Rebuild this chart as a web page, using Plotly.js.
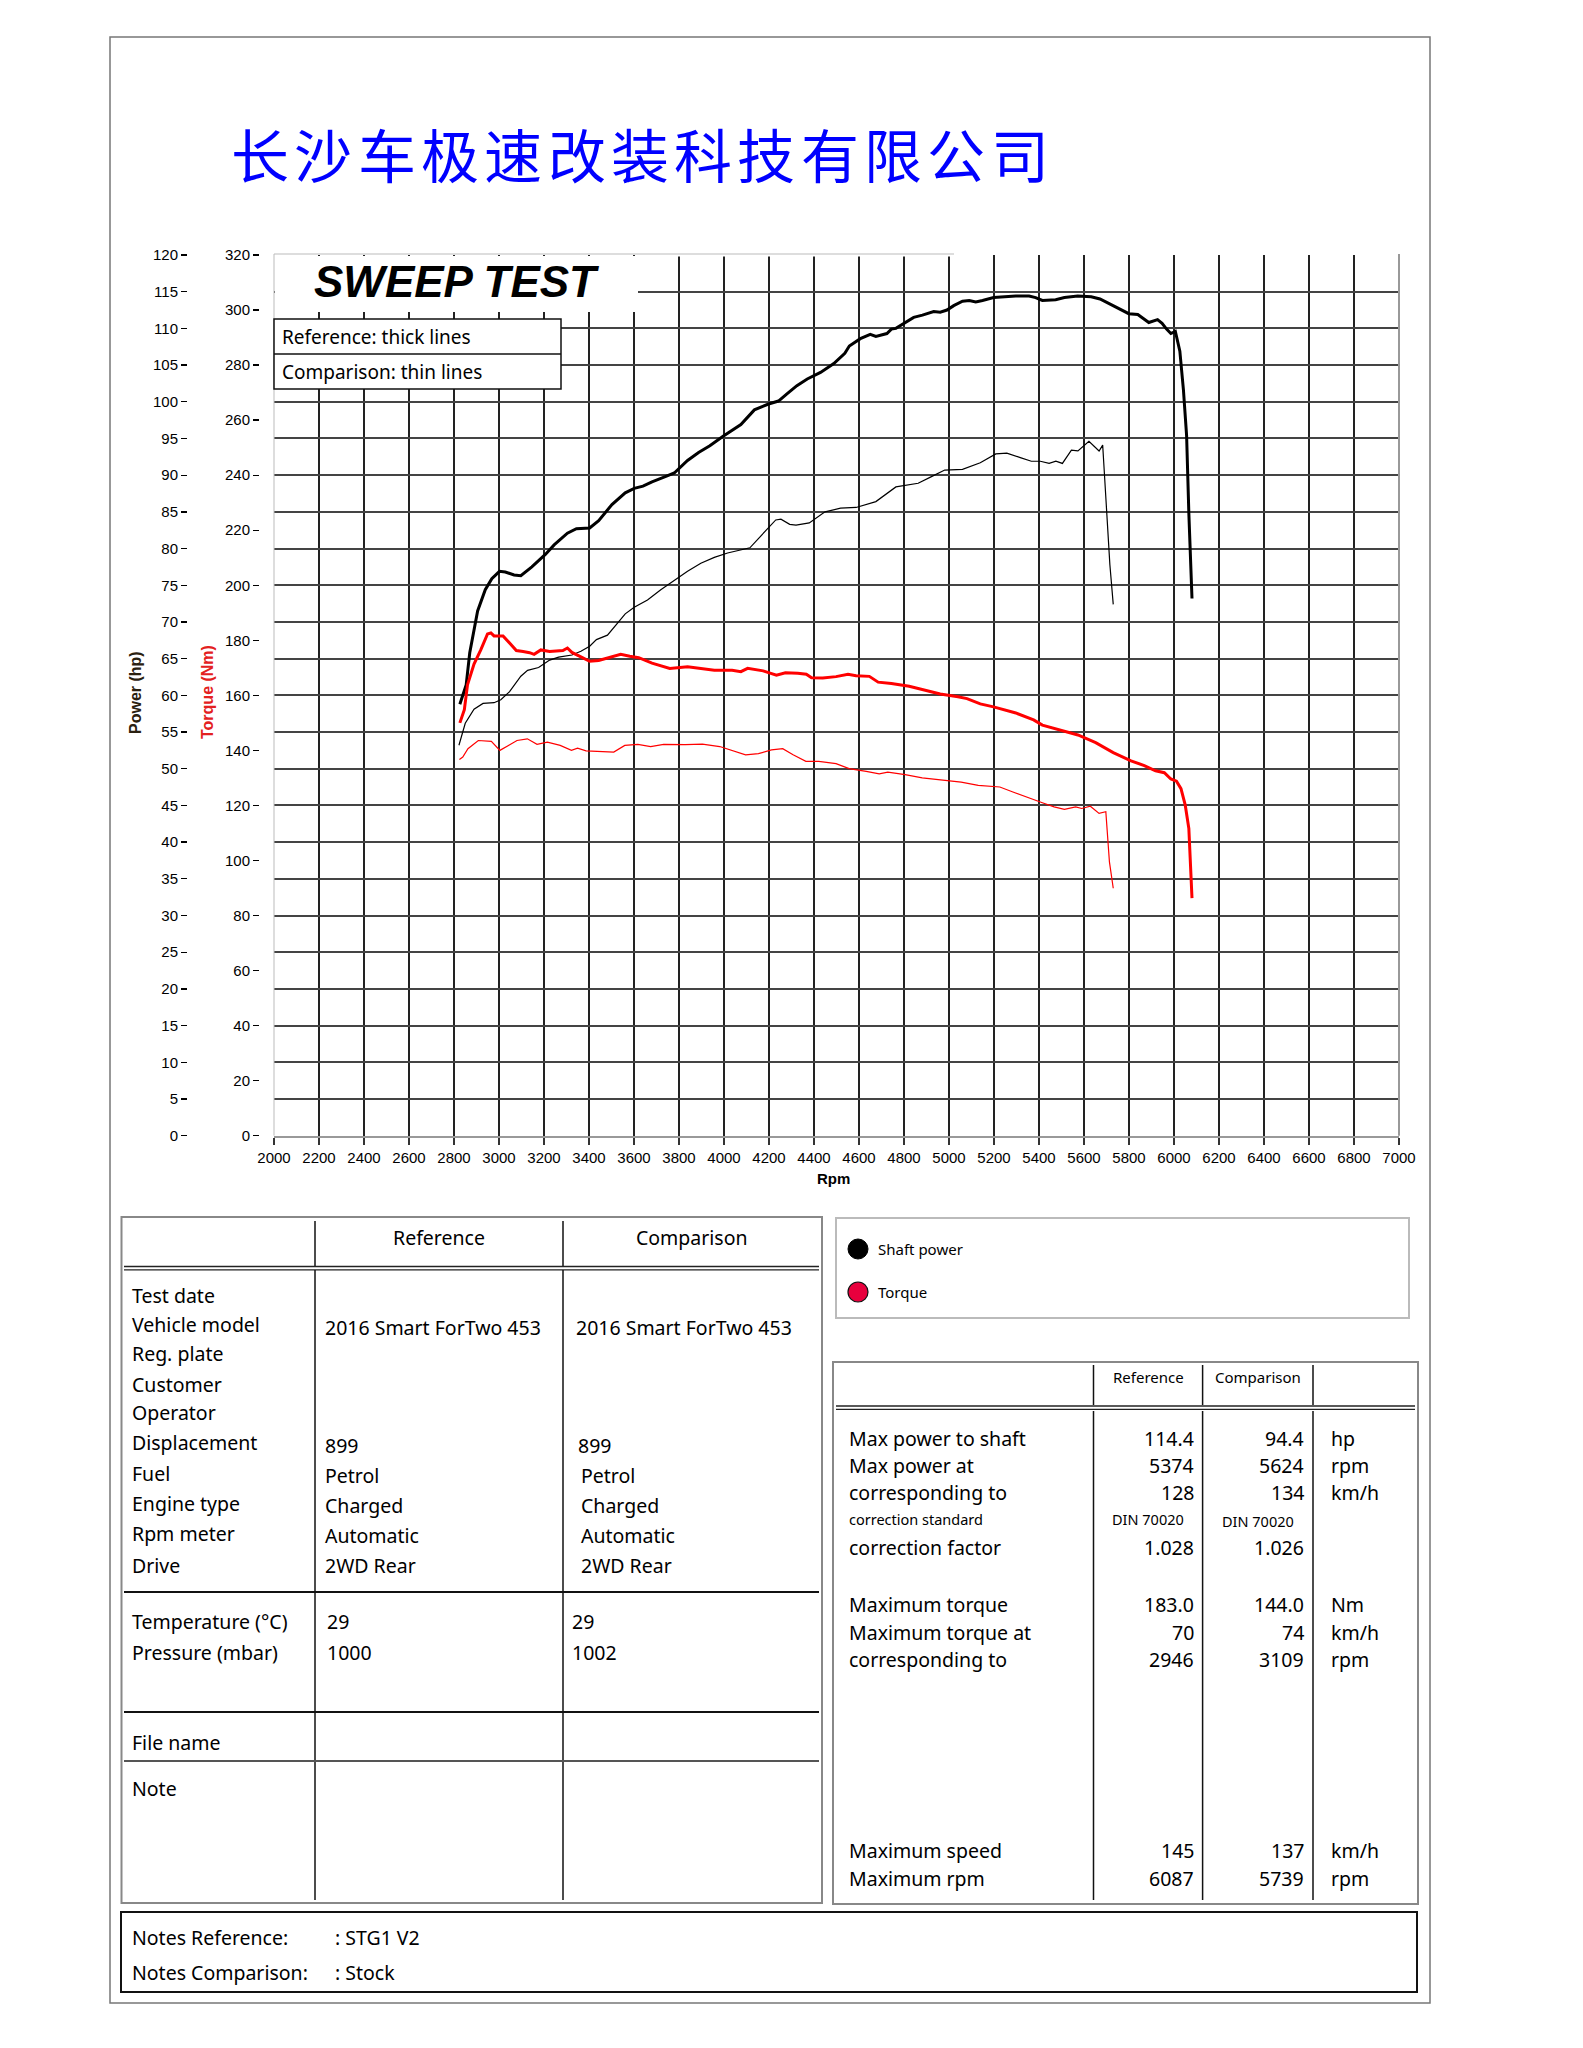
<!DOCTYPE html>
<html><head><meta charset="utf-8">
<script src="https://cdn.plot.ly/plotly-3.0.1.min.js"></script>
<style>html,body{margin:0;padding:0;background:#fff}#chart{width:1583px;height:2048px}</style>
</head><body><div id="chart"></div>
<script>
// ---------- DATA ----------
const refPowerRpm = [2826,2854,2870,2905,2939,2968,3002,3028,3067,3097,3146,3206,3245,3304,3344,3403,3443,3502,3561,3601,3640,3680,3739,3779,3838,3887,3937,3996,4075,4135,4198,4242,4281,4324,4370,4429,4488,4537,4557,4606,4650,4675,4724,4744,4764,4794,4843,4882,4932,4961,4991,5021,5060,5090,5119,5149,5198,5297,5356,5385,5415,5474,5513,5572,5632,5671,5730,5799,5839,5888,5927,5947,5967,5986,6006,6026,6042,6056,6066,6080];
const refPowerHp = [58.8,61.4,65.8,71.5,74.4,75.9,76.9,76.8,76.4,76.3,77.5,79.2,80.5,82.1,82.7,82.8,83.8,86.0,87.6,88.2,88.5,89.1,89.8,90.3,92.0,93.1,94.0,95.3,96.9,98.9,99.7,100.1,101.1,102.2,103.1,104.0,105.2,106.6,107.6,108.6,109.2,108.9,109.3,109.9,110.0,110.6,111.5,111.8,112.3,112.2,112.5,113.1,113.7,113.8,113.6,113.8,114.2,114.4,114.4,114.2,113.8,113.9,114.2,114.4,114.3,114.0,113.1,112.0,111.9,110.8,111.2,110.7,109.9,109.3,109.6,106.9,101.6,95.4,84.8,73.2];

const cmpPowerRpm = [2822,2850,2889,2929,2978,3008,3047,3097,3127,3176,3225,3265,3324,3364,3403,3433,3482,3522,3561,3601,3660,3719,3779,3838,3897,3957,4016,4075,4115,4154,4200,4230,4253,4292,4320,4379,4449,4518,4587,4675,4764,4863,4922,4981,5060,5139,5208,5257,5317,5366,5406,5445,5475,5504,5544,5573,5622,5652,5667,5683,5691,5703,5715,5730];
const cmpPowerHp = [53.2,56.2,58.1,58.9,59.0,59.4,60.5,62.6,63.4,63.8,64.8,65.2,65.5,66.0,66.7,67.6,68.2,69.6,71.1,72.0,73.0,74.4,75.7,76.9,78.0,78.8,79.4,79.8,80.1,81.4,82.9,83.9,84.0,83.3,83.2,83.5,85.0,85.5,85.6,86.4,88.4,88.9,89.8,90.7,90.8,91.7,92.9,93.0,92.4,91.9,91.9,91.6,91.9,91.6,93.4,93.3,94.6,93.7,93.3,94.1,90.3,85.0,77.8,72.4];

const refTorqueRpm = [2826,2846,2860,2889,2919,2949,2964,2978,3018,3038,3077,3107,3136,3156,3186,3225,3284,3304,3324,3364,3403,3443,3492,3541,3581,3621,3680,3759,3838,3897,3957,4036,4075,4105,4174,4233,4273,4328,4366,4389,4439,4498,4551,4587,4646,4685,4744,4823,4882,4961,5040,5080,5139,5198,5297,5376,5415,5494,5573,5652,5730,5809,5868,5918,5957,5986,6011,6031,6050,6066,6074,6080];
const refTorqueNm = [150.0,154.8,163.8,171.4,176.5,182.3,182.7,181.6,181.6,179.7,176.3,175.9,175.5,174.9,176.5,175.9,176.3,177.2,175.6,174.0,172.4,172.7,173.7,174.9,174.2,173.7,171.7,169.8,170.4,169.8,169.1,169.1,168.6,169.8,168.9,167.3,168.2,168.0,167.7,166.4,166.3,166.8,167.7,167.1,166.9,164.8,164.3,163.3,162.0,160.5,159.5,158.8,156.9,155.8,153.6,151.1,149.2,147.5,145.6,142.8,139.2,136.2,134.5,132.6,131.9,129.6,128.8,126.1,120.1,111.6,99.5,86.3];

const cmpTorqueRpm = [2824,2839,2862,2908,2966,3004,3042,3080,3126,3169,3215,3272,3322,3349,3387,3464,3510,3559,3617,3674,3732,3828,3904,3981,4038,4096,4153,4211,4261,4307,4364,4421,4498,4556,4632,4690,4728,4805,4881,4958,5054,5130,5226,5284,5360,5418,5467,5513,5563,5590,5628,5667,5697,5713,5730];
const cmpTorqueNm = [136.7,137.6,140.6,143.6,143.3,140.0,141.8,143.6,144.2,142.2,143.0,141.8,140.0,140.8,139.8,139.4,139.4,141.8,142.2,141.4,142.2,142.1,142.3,141.4,140.0,138.4,138.8,140.2,140.6,138.4,136.0,136.0,135.2,133.4,132.4,131.5,132.1,131.2,130.0,129.4,128.5,127.3,126.7,124.9,122.5,120.9,119.5,118.6,119.5,118.9,119.7,117.1,117.7,99.5,89.9];

const companyTitle = '长沙车极速改装科技有限公司';
const chartTitle = 'SWEEP TEST';
const lineNote = ['Reference: thick lines', 'Comparison: thin lines'];
const legendItems = ['Shaft power', 'Torque'];

const infoLabels = ['Test date','Vehicle model','Reg. plate','Customer','Operator','Displacement','Fuel','Engine type','Rpm meter','Drive','Temperature (°C)','Pressure (mbar)'];
const infoRef = ['', '2016 Smart ForTwo 453', '', '', '', '899', 'Petrol', 'Charged', 'Automatic', '2WD Rear', '29', '1000'];
const infoCmp = ['', '2016 Smart ForTwo 453', '', '', '', '899', 'Petrol', 'Charged', 'Automatic', '2WD Rear', '29', '1002'];

const statLabels = ['Max power to shaft','Max power at','corresponding to','correction standard','correction factor','Maximum torque','Maximum torque at','corresponding to','Maximum speed','Maximum rpm'];
const statRef = ['114.4','5374','128','DIN 70020','1.028','183.0','70','2946','145','6087'];
const statCmp = ['94.4','5624','134','DIN 70020','1.026','144.0','74','3109','137','5739'];
const statUnits = ['hp','rpm','km/h','','','Nm','km/h','rpm','km/h','rpm'];

const notesLabels = ['Notes Reference:', 'Notes Comparison:'];
const notesValues = [': STG1 V2', ': Stock'];

// ---------- LAYOUT HELPERS ----------
const W = 1583, H = 2048;
const X = p => p / W;
const Y = p => 1 - p / H;
const TXT = 'Noto Sans, Open Sans, sans-serif';
const ARIAL = 'Liberation Sans, Arial, sans-serif';

const shapes = [];
const ann = [];
function line(x0, y0, x1, y1, color, width, layer) {
  shapes.push({type:'line', xref:'paper', yref:'paper', x0:X(x0), y0:Y(y0), x1:X(x1), y1:Y(y1),
    line:{color:color, width:width}, layer: layer || 'above'});
}
function rect(x0, y0, x1, y1, lineColor, width, fill) {
  shapes.push({type:'rect', xref:'paper', yref:'paper', x0:X(x0), y0:Y(y0), x1:X(x1), y1:Y(y1),
    line:{color:lineColor, width:width}, fillcolor: fill || 'rgba(0,0,0,0)', layer:'above'});
}
function text(t, x, y, opt) {
  opt = opt || {};
  ann.push({xref:'paper', yref:'paper', x:X(x), y:Y(y), text:t, showarrow:false,
    xanchor: opt.xa || 'left', yanchor:'middle', textangle: opt.angle || 0,
    font:{family: opt.family || TXT, size: opt.size || 19.5, color: opt.color || '#000', weight: opt.weight || 'normal'}});
}

// page border
rect(110, 37, 1430, 2003, '#777', 1.5);

// company title (one glyph per cell, wide pitch like the brush-script original)
companyTitle.split('').forEach((ch, i) => {
  text(ch, 260 + i * 63.3, 153, {family:'Noto Sans CJK SC', size:58, color:'#0000ff', weight:'normal', xa:'center'});
});

// plot frame pieces
const PL = 274, PR = 1399, PT = 255, PB = 1135.7;
line(PL, PT - 1, PL, PB, '#bbb', 1);
line(PR, PT - 1, PR, PB, '#999', 2);
line(638, PT, 954, PT, '#ffffff', 3);
line(PL, PT - 1, 954, PT - 1, '#bbb', 1);
// title area
rect(PL + 1, PT + 1, 638, 312, 'rgba(0,0,0,0)', 0, '#ffffff');
text('<b><i>' + chartTitle + '</i></b>', 312, 281, {family:ARIAL, size:44});
// thick/thin note box
rect(PL, 319, 561, 389, '#111', 1.5, '#ffffff');
line(PL, 354, 561, 354, '#111', 1.5);
text(lineNote[0], 280, 337, {size:19});
text(lineNote[1], 280, 372, {size:19});

// axis titles
text('<b>Power (hp)</b>', 135, 693, {family:ARIAL, size:16, color:'#2a2010', angle:-90, xa:'center'});
text('<b>Torque (Nm)</b>', 207, 692, {family:ARIAL, size:16, color:'#e32020', angle:-90, xa:'center'});
text('<b>Rpm</b>', 834, 1178, {family:ARIAL, size:15, xa:'center'});

// ---------- LEFT INFO TABLE ----------
rect(121.5, 1217, 822, 1903, '#888', 2);
line(315, 1221, 315, 1266, '#111', 1.5);
line(563, 1221, 563, 1266, '#111', 1.5);
line(124, 1266.5, 819, 1266.5, '#222', 1.3);
line(124, 1269.8, 819, 1269.8, '#222', 1.3);
line(315, 1270, 315, 1900, '#111', 1.5);
line(563, 1270, 563, 1900, '#111', 1.5);
line(124, 1592, 819, 1592, '#111', 1.8);
line(124, 1712, 819, 1712, '#111', 2);
line(124, 1761, 819, 1761, '#555', 2);
text('Reference', 439, 1237, {xa:'center'});
text('Comparison', 692, 1237, {xa:'center'});
const infoY = [1295,1324,1353,1384,1412,1442,1473,1503,1533,1565,1621,1652];
const refValY = [1295,1327,1353,1384,1412,1445,1475,1505,1535,1565,1621,1652];
infoLabels.forEach((l, i) => {
  text(l, 130, infoY[i]);
  if (infoRef[i]) text(infoRef[i], i >= 10 ? 325 : 323, refValY[i]);
  if (infoCmp[i]) text(infoCmp[i], i >= 10 ? 570 : (i === 1 ? 574 : (i === 5 ? 576 : 579)), refValY[i]);
});
text('File name', 130, 1742);
text('Note', 130, 1788);

// ---------- LEGEND BOX ----------
rect(836, 1218, 1409, 1318, '#bbb', 2);
shapes.push({type:'circle', xref:'paper', yref:'paper', x0:X(848), y0:Y(1259), x1:X(868), y1:Y(1239),
  fillcolor:'#000', line:{color:'#000', width:1}, layer:'above'});
shapes.push({type:'circle', xref:'paper', yref:'paper', x0:X(848), y0:Y(1302), x1:X(868), y1:Y(1282),
  fillcolor:'#e8003d', line:{color:'#111', width:1.2}, layer:'above'});
text(legendItems[0], 876, 1249, {size:15});
text(legendItems[1], 876, 1292, {size:15});

// ---------- STATS TABLE ----------
rect(833, 1362, 1418, 1904, '#888', 2);
[1093.5, 1202.6, 1313].forEach(x => {
  line(x, 1365, x, 1405, '#111', 1.5);
  line(x, 1411, x, 1900, '#111', 1.5);
});
line(836, 1406, 1415, 1406, '#222', 1.3);
line(836, 1409.3, 1415, 1409.3, '#222', 1.3);
text('Reference', 1148, 1377, {size:15, xa:'center'});
text('Comparison', 1257.5, 1377, {size:15, xa:'center'});
const statY = [1438,1465,1492,1519,1547,1604,1632,1659,1850,1878];
statLabels.forEach((l, i) => {
  const small = (i === 3);
  text(l, 847, statY[i], {size: small ? 14.5 : 19.5});
  if (small) {
    text(statRef[i], 1148, statY[i], {size:14.5, xa:'center'});
    text(statCmp[i], 1257.5, statY[i] + 2, {size:14.5, xa:'center'});
  } else {
    text(statRef[i], 1196, statY[i], {xa:'right'});
    text(statCmp[i], 1306, statY[i], {xa:'right'});
  }
  if (statUnits[i]) text(statUnits[i], 1329, statY[i]);
});

// ---------- NOTES BOX ----------
rect(121, 1912, 1417, 1992, '#111', 2);
notesLabels.forEach((l, i) => {
  text(l, 130, [1937, 1972][i]);
  text(notesValues[i], 333, [1937, 1972][i]);
});

// ---------- TRACES ----------
const traces = [
  {x: cmpPowerRpm, y: cmpPowerHp, yaxis:'y', mode:'lines', line:{color:'#000', width:1.2}},
  {x: cmpTorqueRpm, y: cmpTorqueNm, yaxis:'y2', mode:'lines', line:{color:'#ff0000', width:1.2}},
  {x: refPowerRpm, y: refPowerHp, yaxis:'y', mode:'lines', line:{color:'#000', width:3}},
  {x: refTorqueRpm, y: refTorqueNm, yaxis:'y2', mode:'lines', line:{color:'#ff0000', width:3}}
];

const layout = {
  width: W, height: H,
  margin: {l:0, r:0, t:0, b:0, pad:0},
  paper_bgcolor:'#fff', plot_bgcolor:'#fff',
  showlegend:false,
  xaxis: {
    domain:[X(PL), X(PR)], range:[2000, 7000], dtick:200, tick0:2000,
    showgrid:true, gridcolor:'#222', gridwidth:1.3, zeroline:false,
    showline:true, linecolor:'#999', linewidth:2.5,
    ticks:'outside', ticklen:7, tickcolor:'#333', tickwidth:1.3,
    tickfont:{family:ARIAL, size:15, color:'#000'}, fixedrange:true
  },
  yaxis: {
    domain:[Y(PB), Y(PT)], range:[0, 120], dtick:5, tick0:0,
    anchor:'free', position:X(187), side:'left',
    showgrid:true, gridcolor:'#444', gridwidth:2, zeroline:false, showline:false,
    ticks:'outside', ticklen:6, tickcolor:'#000', tickwidth:1.3,
    tickfont:{family:ARIAL, size:15, color:'#000'}, fixedrange:true
  },
  yaxis2: {
    overlaying:'y', range:[0, 320], dtick:20, tick0:0,
    anchor:'free', position:X(259), side:'left',
    showgrid:false, zeroline:false, showline:false,
    ticks:'outside', ticklen:6, tickcolor:'#000', tickwidth:1.3,
    tickfont:{family:ARIAL, size:15, color:'#000'}, fixedrange:true
  },
  shapes: shapes,
  annotations: ann
};

Plotly.newPlot('chart', traces, layout, {staticPlot:true, displayModeBar:false});
</script>
</body></html>
